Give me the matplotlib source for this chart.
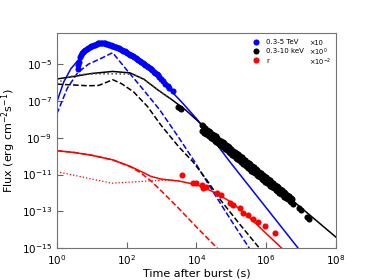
import numpy as np
import matplotlib
matplotlib.use('Agg')
import matplotlib.pyplot as plt

# model curves, (log10 t, log10 F)
blue_solid_t = [0, 0.2, 0.4, 0.6, 0.8, 1.0, 1.2, 1.4, 1.6, 1.8, 2.0, 2.4, 2.8, 3.2, 3.6, 4.0, 4.5, 5.0, 5.5, 6.0, 6.5, 7.0]
blue_solid_f = [-7.05, -5.95, -5.25, -4.8, -4.4, -4.1, -3.92, -3.88, -3.95, -4.12, -4.33, -4.85, -5.5, -6.3, -7.1, -7.95, -9.15, -10.4, -11.6, -12.8, -14.0, -15.2]
blue_dash_t = [0, 0.3, 0.6, 0.9, 1.3, 1.6, 2.0, 2.4, 2.95, 3.5, 3.95, 4.5, 5.0, 5.55]
blue_dash_f = [-7.7, -6.3, -5.45, -5.0, -4.65, -4.37, -5.3, -6.2, -7.48, -9.0, -10.3, -12.0, -13.5, -15.1]

black_solid_t = [0, 0.5, 1.0, 1.6, 2.1, 2.5, 2.9, 3.3, 3.7, 4.1, 5.0, 6.0, 7.0, 8.0]
black_solid_f = [-5.8, -5.66, -5.5, -5.39, -5.47, -5.82, -6.4, -6.93, -7.5, -8.19, -9.6, -11.2, -12.8, -14.4]
black_dot_t = [0, 0.3, 0.7, 1.2, 1.7, 2.2, 2.5, 2.9, 3.3]
black_dot_f = [-6.05, -5.7, -5.55, -5.52, -5.52, -5.55, -5.82, -6.4, -6.93]
black_dash_t = [0, 0.9, 1.2, 1.4, 1.6, 1.85, 2.2, 2.6, 3.0, 3.5, 3.9, 4.3, 4.7, 5.2, 5.85]
black_dash_f = [-6.08, -6.17, -6.15, -6.0, -5.84, -6.05, -6.5, -7.3, -8.35, -9.5, -10.3, -11.3, -12.4, -13.6, -15.1]

red_solid_t = [0, 0.5, 1.0, 1.6, 2.1, 2.4, 2.7, 3.0, 3.5, 4.0, 4.5, 5.0, 5.5, 6.0, 6.5]
red_solid_f = [-9.7, -9.8, -9.95, -10.2, -10.55, -10.82, -11.1, -11.25, -11.35, -11.55, -11.95, -12.5, -13.3, -14.2, -15.1]
red_dot_t = [0, 1.57, 2.2, 2.8, 3.2, 3.5]
red_dot_f = [-10.84, -11.47, -11.4, -11.33, -11.3, -11.35]
red_dash_t = [0, 0.5, 1.0, 1.6, 2.1, 2.4, 2.7, 3.0, 3.5, 4.0, 4.7]
red_dash_f = [-9.7, -9.8, -9.95, -10.2, -10.57, -10.9, -11.35, -11.9, -12.85, -13.85, -15.2]

# observed points, (log10 t, log10 F)
tev_t = [0.60, 0.61, 0.63, 0.66, 0.69, 0.72, 0.75, 0.78, 0.82, 0.86, 0.90, 0.94, 0.98, 1.02, 1.06, 1.10,
         1.14, 1.18, 1.22, 1.26, 1.30, 1.34, 1.38, 1.42, 1.46, 1.50, 1.54, 1.58, 1.62, 1.66, 1.70, 1.74,
         1.78, 1.82, 1.86, 1.90, 1.94, 1.98, 2.02, 2.06, 2.10, 2.14, 2.18, 2.22, 2.26, 2.30, 2.34, 2.38,
         2.42, 2.46, 2.50, 2.54, 2.58, 2.62, 2.66, 2.70, 2.74, 2.78, 2.82, 2.86, 2.90, 2.94, 2.98, 3.04,
         3.10, 3.18, 3.22, 3.32]
tev_f = [-5.25, -5.05, -4.85, -4.62, -4.48, -4.38, -4.32, -4.28, -4.22, -4.16, -4.12, -4.07, -4.02, -3.99,
         -3.95, -3.93, -3.9, -3.87, -3.85, -3.84, -3.84, -3.85, -3.87, -3.89, -3.91, -3.93, -3.96, -3.98,
         -4.01, -4.04, -4.08, -4.11, -4.14, -4.18, -4.22, -4.26, -4.3, -4.35, -4.39, -4.43, -4.48, -4.52,
         -4.57, -4.62, -4.67, -4.72, -4.78, -4.82, -4.87, -4.92, -4.97, -5.02, -5.08, -5.13, -5.18, -5.25,
         -5.32, -5.4, -5.46, -5.52, -5.6, -5.68, -5.78, -5.9, -6.05, -6.2, -6.3, -6.48]

xray_t = [3.48, 3.52, 3.56,
          4.15, 4.20, 4.25, 4.30, 4.35, 4.40, 4.45, 4.50, 4.55, 4.60, 4.65, 4.70, 4.75, 4.80, 4.85, 4.90,
          4.95, 5.00, 5.05, 5.10, 5.15, 5.20, 5.25, 5.30, 5.35, 5.40, 5.45, 5.50, 5.55, 5.60, 5.65, 5.70,
          5.75, 5.80, 5.85, 5.90, 5.95, 6.00, 6.05, 6.10, 6.15, 6.20, 6.25, 6.30, 6.35, 6.40, 6.45, 6.50,
          6.55, 6.60, 6.65, 6.70, 6.75,
          4.175, 4.225, 4.275, 4.325, 4.375, 4.425, 4.475, 4.525, 4.575, 4.625, 4.675, 4.725, 4.775,
          4.825, 4.875, 4.925, 4.975, 5.025, 5.075, 5.125, 5.175, 5.225, 5.275, 5.325, 5.375, 5.425,
          5.475, 5.525, 5.575, 5.625, 5.675, 5.725, 5.775, 5.825, 5.875, 5.925, 5.975, 6.025, 6.075,
          6.125, 6.175, 6.225, 6.275, 6.325, 6.375, 6.425, 6.475, 6.525, 6.575, 6.625, 6.675, 6.725, 6.78,
          6.95, 7.0, 7.18, 7.22]
xray_f = [-7.35, -7.4, -7.45,
          -8.3, -8.38, -8.45, -8.55, -8.62, -8.7, -8.8, -8.85, -8.92, -9.0, -9.1, -9.15, -9.22, -9.3,
          -9.4, -9.45, -9.52, -9.6, -9.7, -9.75, -9.85, -9.9, -9.98, -10.05, -10.15, -10.22, -10.3, -10.38,
          -10.45, -10.52, -10.6, -10.7, -10.75, -10.85, -10.92, -11.0, -11.08, -11.15, -11.22, -11.3,
          -11.38, -11.45, -11.55, -11.62, -11.7, -11.78, -11.85, -11.95, -12.02, -12.1, -12.18, -12.25,
          -12.35,
          -8.65, -8.72, -8.78, -8.85, -8.92, -9.0, -9.08, -9.15, -9.22, -9.3, -9.38, -9.45, -9.52, -9.6,
          -9.68, -9.75, -9.85, -9.92, -10.0, -10.08, -10.15, -10.22, -10.3, -10.4, -10.45, -10.55, -10.62,
          -10.7, -10.78, -10.85, -10.92, -11.0, -11.08, -11.15, -11.22, -11.3, -11.38, -11.45, -11.52,
          -11.6, -11.68, -11.75, -11.82, -11.9, -11.98, -12.05, -12.12, -12.2, -12.28, -12.35, -12.42,
          -12.5, -12.6,
          -12.8, -12.95, -13.3, -13.4]

opt_t = [3.6, 3.91, 4.0, 4.15, 4.19, 4.29, 4.58, 4.72, 4.96, 5.05, 5.24, 5.34, 5.48, 5.62, 5.77, 5.96, 6.25]
opt_f = [-11.02, -11.44, -11.47, -11.57, -11.75, -11.66, -12.02, -12.11, -12.53, -12.66, -12.84, -13.11,
         -13.2, -13.44, -13.57, -13.8, -14.17]

scale_labels = ['×10', '×10$^{0}$', '×10$^{-2}$']


def p(t, f):
    return 10 ** np.array(t), 10 ** np.array(f)


fig = plt.figure(figsize=(3.74, 2.8), dpi=100)
ax = fig.add_axes([0.152, 0.114, 0.746, 0.768])

lw = 1.1
ax.plot(*p(blue_solid_t, blue_solid_f), color='blue', lw=lw)
ax.plot(*p(blue_dash_t, blue_dash_f), color='blue', lw=lw, ls='--')
ax.plot(*p(black_solid_t, black_solid_f), color='black', lw=lw)
ax.plot(*p(black_dot_t, black_dot_f), color='0.3', lw=lw, ls=':')
ax.plot(*p(black_dash_t, black_dash_f), color='black', lw=lw, ls='--')
ax.plot(*p(red_solid_t, red_solid_f), color='red', lw=lw)
ax.plot(*p(red_dot_t, red_dot_f), color='red', lw=0.9, ls=':')
ax.plot(*p(red_dash_t, red_dash_f), color='red', lw=lw, ls='--')

ax.plot(*p(tev_t, tev_f), 'o', color='blue', ms=4.4, mew=0, label='0.3-5 TeV')
ax.plot(*p(xray_t, xray_f), 'o', color='black', ms=4.4, mew=0, label='0.3-10 keV')
ax.plot(*p(opt_t, opt_f), 'o', color='red', ms=4.4, mew=0, label='r')

ax.set_xscale('log')
ax.set_yscale('log')
ax.set_xlim(1, 1e8)
ax.set_ylim(1e-15, 5e-4)
ax.set_xticks([1e0, 1e2, 1e4, 1e6, 1e8])
ax.set_yticks([1e-15, 1e-13, 1e-11, 1e-9, 1e-7, 1e-5])
ax.minorticks_off()
ax.tick_params(direction='in', labelsize=7.5, color='0.4', length=4)
ax.tick_params(axis='x', pad=4)
for s in ax.spines.values():
    s.set_color('0.45')
ax.set_xlabel('Time after burst (s)', fontsize=8, labelpad=1)
ax.set_ylabel('Flux (erg cm$^{-2}$s$^{-1}$)', fontsize=8, labelpad=3)

ax.legend(loc='upper left', bbox_to_anchor=(0.675, 1.0), frameon=False, fontsize=5,
          handletextpad=0.9, labelspacing=0.45, handlelength=1.2)
for lab, yy in zip(scale_labels, [0.955, 0.911, 0.862]):
    ax.text(0.903, yy, lab, transform=ax.transAxes, fontsize=4.8, va='center')

plt.savefig('out.png', dpi=100)
